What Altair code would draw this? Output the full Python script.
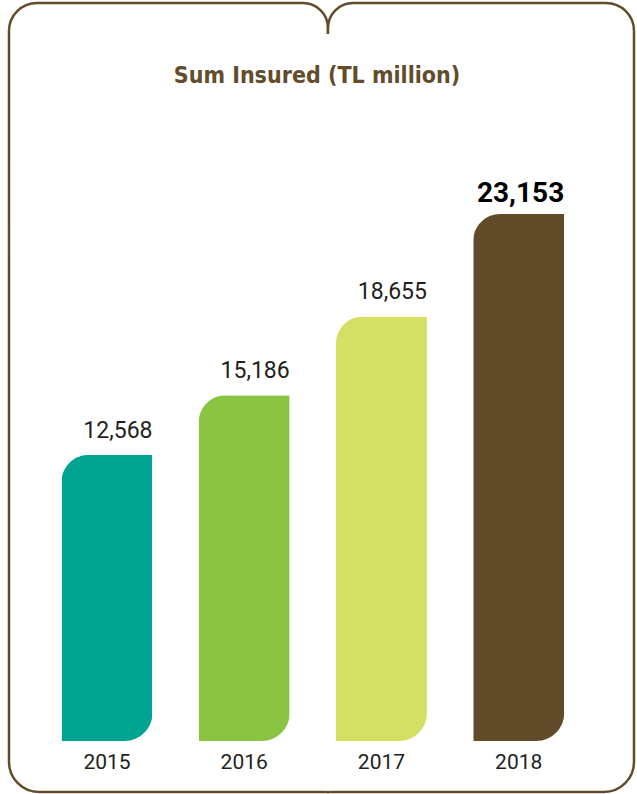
import altair as alt
import pandas as pd

years = ["2015", "2016", "2017", "2018"]
values = [12568, 15186, 18655, 23153]
labels = ["12,568", "15,186", "18,655", "23,153"]
colors = ["#00a591", "#8bc443", "#d3e063", "#624b29"]
title_text = "Sum Insured (TL million)"

BROWN = "#634c2a"
TEXT = "#231f20"

df = pd.DataFrame({"year": years, "value": values, "label": labels})
blank = alt.Data(values=[{}])

x = alt.X("year:N",
          scale=alt.Scale(domain=years, range=[61.5, 564.2], paddingInner=0.337, paddingOuter=0),
          axis=None)
y = alt.Y("value:Q",
          scale=alt.Scale(domain=[0, 23153], range=[741, 214], nice=False),
          axis=None)

frame_left = alt.Chart(blank).mark_rect(
    fill="white", stroke=BROWN, strokeWidth=2.5,
    cornerRadiusTopLeft=28, cornerRadiusTopRight=25, cornerRadiusBottomLeft=30
).encode(x=alt.value(9), x2=alt.value(328), y=alt.value(3), y2=alt.value(792))

frame_right = alt.Chart(blank).mark_rect(
    fill="white", stroke=BROWN, strokeWidth=2.5,
    cornerRadiusTopLeft=25, cornerRadiusTopRight=28, cornerRadiusBottomRight=30
).encode(x=alt.value(328), x2=alt.value(634), y=alt.value(3), y2=alt.value(792))

cover = alt.Chart(blank).mark_rect(color="white").encode(
    x=alt.value(325), x2=alt.value(331), y=alt.value(34), y2=alt.value(790.7))

base = alt.Chart(df)

bars = base.mark_bar(cornerRadiusTopLeft=27, cornerRadiusBottomRight=28).encode(
    x=x, y=y,
    color=alt.Color("year:N", scale=alt.Scale(domain=years, range=colors), legend=None))

value_labels = base.transform_filter(alt.datum.year != "2018").mark_text(
    align="right", baseline="alphabetic", dx=45.5, dy=-17,
    font="Roboto", fontSize=23, color=TEXT
).encode(x=x, y=y, text="label:N")

bold_label = base.transform_filter(alt.datum.year == "2018").mark_text(
    align="right", baseline="alphabetic", dx=45.5, dy=-12,
    font="Roboto", fontSize=28, fontWeight="bold", color="#000000"
).encode(x=x, y=y, text="label:N")

year_labels = base.mark_text(
    align="center", baseline="alphabetic",
    font="Roboto", fontSize=21, color=TEXT
).encode(x=x, y=alt.value(769), text="year:N")

title = alt.Chart(blank).mark_text(
    text=title_text, align="center", baseline="alphabetic",
    font="DejaVu Sans Condensed, DejaVu Sans, sans-serif",
    fontSize=23, fontWeight="bold", color=BROWN
).encode(x=alt.value(317), y=alt.value(83))

chart = alt.layer(
    frame_left, frame_right, cover, bars, value_labels, bold_label, year_labels, title
).properties(
    width=637, height=794,
    autosize=alt.AutoSizeParams(type="none"),
    padding=0,
).configure_view(stroke=None)

chart.save("out.html", embed_options={"renderer": "svg", "actions": False})
